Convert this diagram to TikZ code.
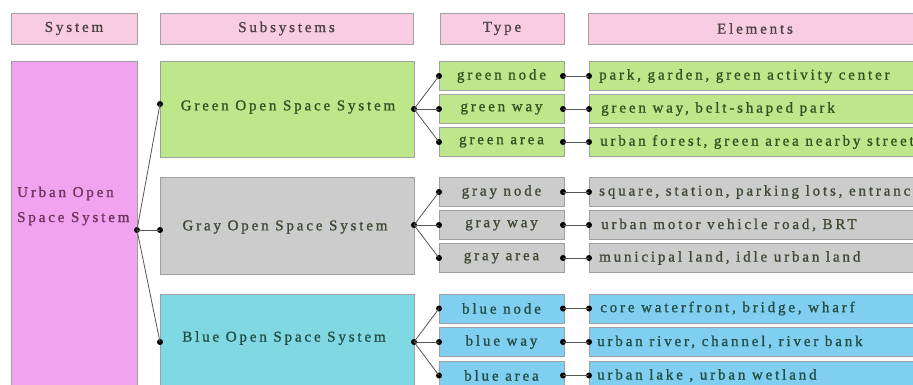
\documentclass[tikz,border=0pt]{standalone}
\usepackage{fontspec}
\setmainfont{Liberation Serif}[LetterSpace=19,FakeBold=1.2]
\definecolor{hdrfill}{HTML}{F8CDE1}
\definecolor{urbfill}{HTML}{F2A3EF}
\definecolor{grnfill}{HTML}{BEE78B}
\definecolor{gryfill}{HTML}{CCCCCC}
\definecolor{bsubfill}{HTML}{80D8E3}
\definecolor{bfill}{HTML}{80CEF0}
\definecolor{boxline}{HTML}{A0A0A0}
\definecolor{conn}{HTML}{555555}
\definecolor{hdrtext}{HTML}{4F4242}
\definecolor{urbtext}{HTML}{6E355E}
\definecolor{grntext}{HTML}{355224}
\definecolor{grytext}{HTML}{3F4A36}
\definecolor{blutext}{HTML}{234F46}
\tikzset{
  box/.style={draw=boxline, line width=0.9pt, rectangle, inner sep=0pt, outer sep=0pt},
  txt/.style={font=\fontsize{15}{18}\selectfont, inner sep=0pt},
  dotn/.style={circle, fill=black, inner sep=0pt, minimum size=6pt},
  link/.style={draw=conn, line width=0.8pt},
  hdr/.style={box, txt, fill=hdrfill, text=hdrtext, minimum height=31pt},
  typebox/.style={box, txt, minimum width=125pt, minimum height=29pt},
  elbox/.style={box, minimum width=334pt, minimum height=29pt},
  subbox/.style={box, minimum width=254pt, minimum height=97pt}
}
\begin{document}
\begin{tikzpicture}[x=1pt,y=-1pt]
\useasboundingbox (0,0) rectangle (913,385);
\clip (0,0) rectangle (913,385);
\fill[white] (0,0) rectangle (913,385);
% headers
\node[hdr, minimum width=126pt] (hsys) at (74,28.5) {System};
\node[hdr, minimum width=253pt] (hsub) at (286.5,28.5) {Subsystems};
\node[hdr, minimum width=124pt] (htyp) at (502,28.5) {Type};
\node[hdr, minimum width=334pt] (hel) at (755,28.5) {Elements};
% system
\node[box, fill=urbfill, minimum width=126pt, minimum height=338pt] (urb) at (74,230) {};
\node[txt, text=urbtext, anchor=base west] (urb1) at (17,197) {Urban Open};
\node[txt, text=urbtext, anchor=base west] (urb2) at (17,222) {Space System};
% subsystems
\node[subbox, fill=grnfill, minimum height=96pt] (gs) at (287,109) {};
\node[txt, text=grntext] (gst) at (288,107) {Green Open Space System};
\node[subbox, fill=gryfill] (ys) at (287,225.5) {};
\node[txt, text=grytext] (yst) at (285,227) {Gray Open Space System};
\node[subbox, fill=bsubfill] (bs) at (287,342.5) {};
\node[txt, text=blutext] (bst) at (284,338) {Blue Open Space System};
% types
\node[typebox, fill=grnfill, text=grntext] (gt1) at (501.5,76) {green node};
\node[typebox, fill=grnfill, text=grntext] (gt2) at (501.5,109) {green way};
\node[typebox, fill=grnfill, text=grntext] (gt3) at (501.5,142) {green area};
\node[typebox, fill=gryfill, text=grytext] (yt1) at (501.5,192) {gray node};
\node[typebox, fill=gryfill, text=grytext] (yt2) at (501.5,225) {gray way};
\node[typebox, fill=gryfill, text=grytext] (yt3) at (501.5,258) {gray area};
\node[typebox, fill=bfill, text=blutext] (bt1) at (501.5,308.5) {blue node};
\node[typebox, fill=bfill, text=blutext] (bt2) at (501.5,342) {blue way};
\node[typebox, fill=bfill, text=blutext] (bt3) at (501.5,375.5) {blue area};
% elements
\node[elbox, fill=grnfill] (ge1) at (756,76) {};
\node[elbox, fill=grnfill] (ge2) at (756,109) {};
\node[elbox, fill=grnfill] (ge3) at (756,142) {};
\node[elbox, fill=gryfill] (ye1) at (756,192) {};
\node[elbox, fill=gryfill] (ye2) at (756,225) {};
\node[elbox, fill=gryfill] (ye3) at (756,258) {};
\node[elbox, fill=bfill] (be1) at (756,308.5) {};
\node[elbox, fill=bfill] (be2) at (756,342) {};
\node[elbox, fill=bfill] (be3) at (756,375.5) {};
\node[txt, text=grntext, anchor=west] (ge1t) at (599,76) {park, garden, green activity center};
\node[txt, text=grntext, anchor=west] (ge2t) at (601,109) {green way, belt-shaped park};
\node[txt, text=grntext, anchor=west] (ge3t) at (600,142) {urban forest, green area nearby street};
\node[txt, text=grytext, anchor=west] (ye1t) at (599,192) {square, station, parking lots, entrance};
\node[txt, text=grytext, anchor=west] (ye2t) at (601,225) {urban motor vehicle road, BRT};
\node[txt, text=grytext, anchor=west] (ye3t) at (599,258) {municipal land, idle urban land};
\node[txt, text=blutext, anchor=west] (be1t) at (600,308.5) {core waterfront, bridge, wharf};
\node[txt, text=blutext, anchor=west] (be2t) at (597,342) {urban river, channel, river bank};
\node[txt, text=blutext, anchor=west] (be3t) at (597,375.5) {urban lake , urban wetland};
% dots
\node[dotn] (ud) at (137,230) {};
\node[dotn] (gl) at (160,104) {};
\node[dotn] (yl) at (160,230) {};
\node[dotn] (bl) at (160,342) {};
\node[dotn] (gr) at (414,109) {};
\node[dotn] (yr) at (414,225) {};
\node[dotn] (br) at (414,342) {};
\foreach \n/\y in {g1/76,g2/109,g3/142,y1/192,y2/225,y3/258,b1/308.5,b2/342,b3/375.5}{
  \node[dotn] (tl\n) at (439,\y) {};
  \node[dotn] (tr\n) at (563,\y) {};
  \node[dotn] (el\n) at (589,\y) {};
}
% links
\draw[link] (ud.center) -- (gl.center);
\draw[link] (ud.center) -- (yl.center);
\draw[link] (ud.center) -- (bl.center);
\foreach \s/\g in {gr/g,yr/y,br/b}{
  \foreach \i in {1,2,3}{
    \draw[link] (\s.center) -- (tl\g\i.center);
    \draw[link] (tr\g\i.center) -- (el\g\i.center);
  }
}
\end{tikzpicture}
\end{document}
